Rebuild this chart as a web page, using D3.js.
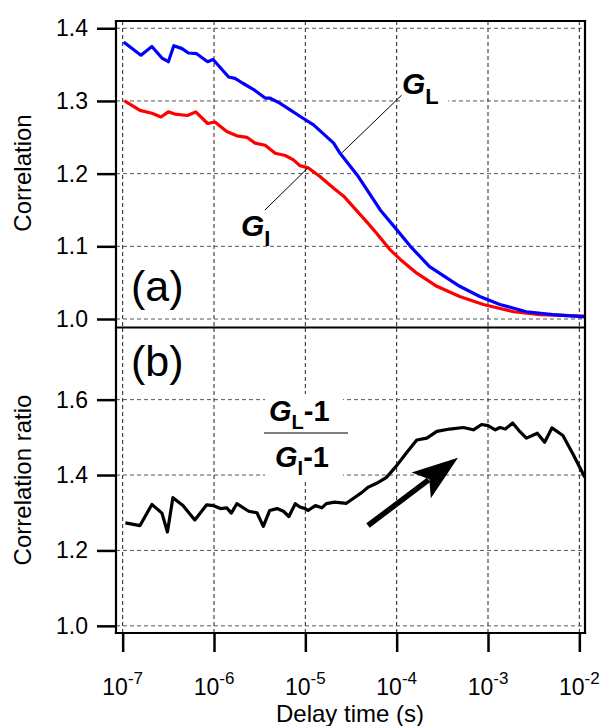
<!DOCTYPE html>
<meta charset="utf-8">
<script src="https://d3js.org/d3.v7.min.js"></script>
<style>
body { margin: 0; background: white; }
text { font-family: Arial, "Liberation Sans", sans-serif; }
</style>
<div id="my_dataviz"></div>
<script>

// ---------------------------//
//       DATA                 //
// ---------------------------//

// log10 of delay time (s) and correlation for G_L (blue)
var logTauL = [-6.99, -6.80, -6.68, -6.57, -6.50, -6.44, -6.35, -6.28, -6.19, -6.07, -6.01,
  -5.84, -5.77, -5.68, -5.57, -5.44, -5.39, -5.28, -5.17, -5.06, -4.91, -4.69, -4.62,
  -4.42, -4.18, -4.00, -3.85, -3.64, -3.31, -3.09, -2.87, -2.58, -2.29, -1.94];
var corrL = [1.381, 1.363, 1.375, 1.359, 1.354, 1.376, 1.372, 1.366, 1.365, 1.354, 1.357,
  1.333, 1.331, 1.324, 1.316, 1.304, 1.304, 1.297, 1.288, 1.279, 1.267, 1.242, 1.228,
  1.196, 1.150, 1.123, 1.100, 1.072, 1.045, 1.031, 1.020, 1.010, 1.006, 1.003];

// log10 of delay time (s) and correlation for G_I (red)
var logTauI = [-6.98, -6.81, -6.68, -6.58, -6.50, -6.43, -6.29, -6.20, -6.07, -5.99, -5.86,
  -5.75, -5.64, -5.55, -5.44, -5.33, -5.22, -5.13, -5.06, -4.97, -4.84, -4.69, -4.58,
  -4.48, -4.33, -4.22, -4.07, -3.96, -3.78, -3.56, -3.31, -3.05, -2.72, -2.43, -1.94];
var corrI = [1.300, 1.287, 1.283, 1.278, 1.285, 1.282, 1.280, 1.285, 1.269, 1.271, 1.258,
  1.252, 1.250, 1.242, 1.239, 1.228, 1.225, 1.219, 1.211, 1.208, 1.196, 1.180, 1.169,
  1.155, 1.134, 1.118, 1.095, 1.082, 1.063, 1.045, 1.031, 1.020, 1.010, 1.006, 1.004];

// log10 of delay time (s) and ratio (G_L-1)/(G_I-1)
var logTauR = [-6.97, -6.81, -6.68, -6.57, -6.51, -6.45, -6.34, -6.21, -6.08, -6.01, -5.93,
  -5.86, -5.81, -5.75, -5.62, -5.53, -5.46, -5.39, -5.31, -5.24, -5.18, -5.11, -5.06,
  -5.00, -4.97, -4.89, -4.82, -4.77, -4.68, -4.55, -4.48, -4.38, -4.31, -4.22, -4.11,
  -4.00, -3.89, -3.78, -3.67, -3.56, -3.42, -3.27, -3.16, -3.07, -3.00, -2.92, -2.87,
  -2.81, -2.73, -2.65, -2.58, -2.46, -2.38, -2.30, -2.18, -2.07, -1.94];
var ratio = [1.273, 1.266, 1.322, 1.299, 1.249, 1.340, 1.319, 1.281, 1.321, 1.319, 1.311,
  1.313, 1.299, 1.324, 1.304, 1.300, 1.264, 1.306, 1.311, 1.304, 1.290, 1.324, 1.315,
  1.311, 1.306, 1.319, 1.313, 1.324, 1.328, 1.325, 1.337, 1.354, 1.368, 1.378, 1.394,
  1.425, 1.460, 1.493, 1.498, 1.516, 1.522, 1.526, 1.520, 1.534, 1.531, 1.520, 1.526,
  1.522, 1.538, 1.515, 1.498, 1.511, 1.487, 1.525, 1.505, 1.456, 1.394];

// ticks
var xTickExp = [-7, -6, -5, -4, -3, -2];
var yTicksTop = [1.0, 1.1, 1.2, 1.3, 1.4];
var yTicksBot = [1.0, 1.2, 1.4, 1.6];

// ---------------------------//
//       SVG AND SCALES       //
// ---------------------------//

var svg = d3.select("#my_dataviz")
  .append("svg")
    .attr("width", 604)
    .attr("height", 726);

var x = d3.scaleLog()
  .domain([Math.pow(10, -7.073), Math.pow(10, -1.938)])
  .range([116, 585]);

var yTop = d3.scaleLinear()
  .domain([0.989, 1.41])
  .range([327, 21]);

var yBot = d3.scaleLinear()
  .domain([0.981, 1.79])
  .range([633, 328]);

var xTicks = xTickExp.map(function(e){ return Math.pow(10, e); });

// ---------------------------//
//       GRID                 //
// ---------------------------//

function grid(y, ticks) {
  var top = y.range()[1], bottom = y.range()[0];
  svg.append("g")
    .selectAll("line")
    .data(xTicks)
    .enter()
    .append("line")
      .attr("x1", function(d){ return x(d); })
      .attr("x2", function(d){ return x(d); })
      .attr("y1", top)
      .attr("y2", bottom)
      .attr("stroke", "#222")
      .attr("stroke-width", 1)
      .style("stroke-dasharray", "4,3");
  svg.append("g")
    .selectAll("line")
    .data(ticks)
    .enter()
    .append("line")
      .attr("x1", 116)
      .attr("x2", 585)
      .attr("y1", function(d){ return y(d); })
      .attr("y2", function(d){ return y(d); })
      .attr("stroke", "#555")
      .attr("stroke-width", 1)
      .style("stroke-dasharray", "4,3");
}
grid(yTop, yTicksTop);
grid(yBot, yTicksBot);

// ---------------------------//
//       CURVES               //
// ---------------------------//

function drawLine(xs, ys, y, color) {
  var pts = xs.map(function(l, i){ return [Math.pow(10, l), ys[i]]; });
  svg.append("path")
    .datum(pts)
    .attr("fill", "none")
    .attr("stroke", color)
    .attr("stroke-width", 3.2)
    .attr("stroke-linejoin", "round")
    .attr("d", d3.line()
      .x(function(d){ return x(d[0]); })
      .y(function(d){ return y(d[1]); }));
}
drawLine(logTauI, corrI, yTop, "#ff0000");
drawLine(logTauL, corrL, yTop, "#0000ff");
drawLine(logTauR, ratio, yBot, "#000000");

// ---------------------------//
//       AXES AND FRAME       //
// ---------------------------//

function leftAxis(y, ticks) {
  var g = svg.append("g")
    .attr("transform", "translate(116,0)")
    .call(d3.axisLeft(y).tickValues(ticks).tickSize(19).tickPadding(9)
      .tickFormat(d3.format(".1f")));
  g.select(".domain").remove();
  g.selectAll("line").attr("stroke-width", 2.5);
  g.selectAll("text")
    .style("font-size", "23px")
    .attr("fill", "#000");
}
leftAxis(yTop, yTicksTop);
leftAxis(yBot, yTicksBot);

var xg = svg.append("g")
  .attr("transform", "translate(0,633)")
  .call(d3.axisBottom(x).tickValues(xTicks).tickSize(19).tickFormat(""));
xg.select(".domain").remove();
xg.selectAll("line").attr("stroke-width", 2.5);

// x tick labels with superscripts
svg.append("g")
  .selectAll("text")
  .data(xTickExp)
  .enter()
  .append("text")
    .attr("x", function(d){ return x(Math.pow(10, d)); })
    .attr("y", 695)
    .attr("text-anchor", "middle")
    .style("font-size", "23px")
    .each(function(d){
      var t = d3.select(this);
      t.append("tspan").text("10");
      t.append("tspan").attr("dy", -11).style("font-size", "17px").text(d);
    });

// frame
var frame = [[116, 21, 116, 633], [116, 21, 585, 21], [585, 21, 585, 633],
             [116, 327.5, 585, 327.5], [116, 633, 585, 633]];
svg.append("g")
  .selectAll("line")
  .data(frame)
  .enter()
  .append("line")
    .attr("x1", function(d){ return d[0]; })
    .attr("y1", function(d){ return d[1]; })
    .attr("x2", function(d){ return d[2]; })
    .attr("y2", function(d){ return d[3]; })
    .attr("stroke", "black")
    .attr("stroke-width", 2.2)
    .attr("stroke-linecap", "square");

// axis titles
svg.append("text")
  .attr("transform", "translate(31,173) rotate(-90)")
  .attr("text-anchor", "middle")
  .style("font-size", "24px")
  .text("Correlation");

svg.append("text")
  .attr("transform", "translate(31,480) rotate(-90)")
  .attr("text-anchor", "middle")
  .style("font-size", "24px")
  .text("Correlation ratio");

svg.append("text")
  .attr("x", 350)
  .attr("y", 722)
  .attr("text-anchor", "middle")
  .style("font-size", "24px")
  .text("Delay time (s)");

// panel letters
svg.append("text").attr("x", 131).attr("y", 301).style("font-size", "43px").text("(a)");
svg.append("text").attr("x", 131).attr("y", 376).style("font-size", "43px").text("(b)");

// ---------------------------//
//       ANNOTATIONS          //
// ---------------------------//

// G_L label with leader line
svg.append("rect")
  .attr("x", x(Math.pow(10, -3.94))).attr("y", 68)
  .attr("width", 46).attr("height", 40)
  .attr("fill", "white");
svg.append("line")
  .attr("x1", x(Math.pow(10, -4.60))).attr("y1", yTop(1.2286))
  .attr("x2", x(Math.pow(10, -3.945))).attr("y2", yTop(1.308))
  .attr("stroke", "black").attr("stroke-width", 1);
var gl = svg.append("text")
  .attr("x", 402).attr("y", 94)
  .style("font-size", "30px").style("font-weight", "bold");
gl.append("tspan").style("font-style", "italic").text("G");
gl.append("tspan").attr("dy", 10).style("font-size", "22px").text("L");

// G_I label with leader line
svg.append("line")
  .attr("x1", x(Math.pow(10, -5.442))).attr("y1", yTop(1.150))
  .attr("x2", x(Math.pow(10, -4.971))).attr("y2", yTop(1.208))
  .attr("stroke", "black").attr("stroke-width", 1);
var gi = svg.append("text")
  .attr("x", 241).attr("y", 236)
  .style("font-size", "30px").style("font-weight", "bold");
gi.append("tspan").style("font-style", "italic").text("G");
gi.append("tspan").attr("dy", 10).style("font-size", "22px").text("I");

// fraction (G_L-1)/(G_I-1)
svg.append("rect")
  .attr("x", 265).attr("y", 394)
  .attr("width", 78).attr("height", 86)
  .attr("fill", "white");
var num = svg.append("text")
  .attr("x", 269).attr("y", 421)
  .style("font-size", "29px").style("font-weight", "bold");
num.append("tspan").style("font-style", "italic").text("G");
num.append("tspan").attr("dy", 8).style("font-size", "20px").text("L");
num.append("tspan").attr("dy", -8).text("-1");
svg.append("line")
  .attr("x1", 264).attr("x2", 348)
  .attr("y1", 433).attr("y2", 433)
  .attr("stroke", "black").attr("stroke-width", 1.2);
var den = svg.append("text")
  .attr("x", 275).attr("y", 467)
  .style("font-size", "29px").style("font-weight", "bold");
den.append("tspan").style("font-style", "italic").text("G");
den.append("tspan").attr("dy", 8).style("font-size", "20px").text("I");
den.append("tspan").attr("dy", -8).text("-1");

// arrow
var a0 = [x(Math.pow(10, -4.314)), yBot(1.266)];
var a1 = [x(Math.pow(10, -3.329)), yBot(1.446)];
var dx = a1[0] - a0[0], dy = a1[1] - a0[1];
var len = Math.sqrt(dx*dx + dy*dy);
var ux = dx/len, uy = dy/len;
var headLen = 46, headW = 16;
svg.append("line")
  .attr("x1", a0[0]).attr("y1", a0[1])
  .attr("x2", a1[0] - ux*headLen*0.8).attr("y2", a1[1] - uy*headLen*0.8)
  .attr("stroke", "black").attr("stroke-width", 5.5);
var bx = a1[0] - ux*headLen, by = a1[1] - uy*headLen;
var nx = a1[0] - ux*headLen*0.78, ny = a1[1] - uy*headLen*0.78;
svg.append("path")
  .attr("d", "M" + a1[0] + "," + a1[1] +
    "L" + (bx - uy*headW) + "," + (by + ux*headW) +
    "L" + nx + "," + ny +
    "L" + (bx + uy*headW) + "," + (by - ux*headW) + "Z")
  .attr("fill", "black");

</script>
